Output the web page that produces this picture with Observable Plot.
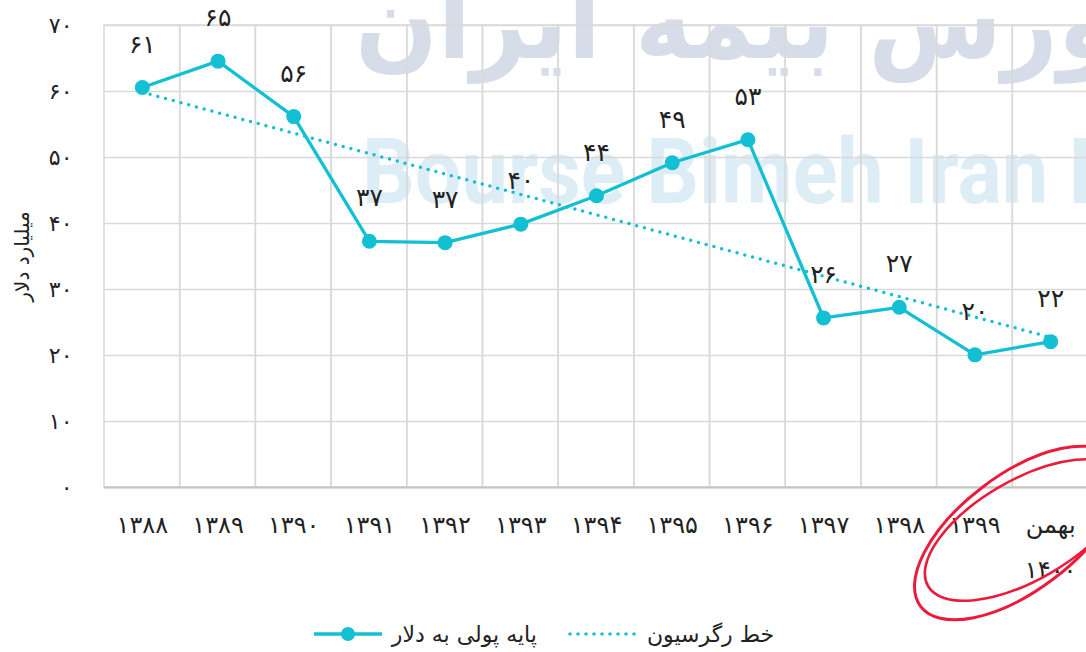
<!DOCTYPE html>
<html>
<head>
<meta charset="utf-8">
<script src="https://cdn.jsdelivr.net/npm/d3@7"></script>
<script src="https://cdn.jsdelivr.net/npm/@observablehq/plot@0.6"></script>
<style>
  html, body { margin: 0; padding: 0; background: #fff; }
  body { width: 1086px; height: 652px; overflow: hidden; font-family: "DejaVu Sans", sans-serif; }
  #wrap { position: relative; width: 1086px; height: 652px; }
  #wm { position: absolute; left: 0; top: 0; z-index: 0; }
  #chart { position: absolute; left: 0; top: 0; z-index: 1; }
  #anno { position: absolute; left: 0; top: 0; z-index: 3; pointer-events: none; }
  #legend { position: absolute; left: 0; top: 614px; width: 1086px; height: 40px; z-index: 2;
    display: flex; justify-content: center; align-items: center; gap: 30px; font-size: 22px; color: #222; }
  .item { display: flex; align-items: center; gap: 8px; }
</style>
</head>
<body>
<div id="wrap">
  <svg id="wm" width="1086" height="652">
    <text x="355" y="58" font-size="105" font-weight="bold" fill="#d6dde8" textLength="800" lengthAdjust="spacingAndGlyphs" font-family="DejaVu Sans">بورس بیمه ایران</text>
    <text x="362" y="203" font-size="90" font-weight="bold" fill="#ddedf5" textLength="790" lengthAdjust="spacingAndGlyphs" font-family="Roboto, sans-serif">Bourse Bimeh Iran Br</text>
  </svg>
  <div id="chart"></div>
  <div id="legend">
    <div class="item">
      <svg width="72" height="20"><line x1="2" y1="10" x2="70" y2="10" stroke="#12bfd3" stroke-width="3.5"/><circle cx="36" cy="10" r="7" fill="#12bfd3"/></svg>
      <span>پایه پولی به دلار</span>
    </div>
    <div class="item">
      <svg width="72" height="20"><line x1="3" y1="10" x2="70" y2="10" stroke="#12bfd3" stroke-width="3.5" stroke-dasharray="0 8" stroke-linecap="round"/></svg>
      <span>خط رگرسیون</span>
    </div>
  </div>
  <svg id="anno" width="1086" height="652">
    <ellipse cx="1018" cy="533" rx="122" ry="58" transform="rotate(-37 1018 533)" fill="none" stroke="#ec1b3b" stroke-width="3"/>
    <ellipse cx="1025" cy="530" rx="112" ry="50" transform="rotate(-30 1025 530)" fill="none" stroke="#ec1b3b" stroke-width="2.6"/>
  </svg>
</div>
<script>
const years = ["۱۳۸۸","۱۳۸۹","۱۳۹۰","۱۳۹۱","۱۳۹۲","۱۳۹۳","۱۳۹۴","۱۳۹۵","۱۳۹۶","۱۳۹۷","۱۳۹۸","۱۳۹۹","بهمن\n۱۴۰۰"];
const values = [60.6, 64.6, 56.2, 37.3, 37.1, 39.9, 44.2, 49.2, 52.7, 25.7, 27.3, 20.1, 22.1];
const valueLabels = [61, 65, 56, 37, 37, 40, 44, 49, 53, 26, 27, 20, 22];
const yTicks = [0, 10, 20, 30, 40, 50, 60, 70];
const yTitle = ["میلیارد دلار"];

const color = "#12bfd3";
const fa = d => String(d).replace(/\d/g, c => "۰۱۲۳۴۵۶۷۸۹"[+c]);

const data = years.map((y, i) => ({year: y, i, value: values[i], label: fa(valueLabels[i])}));

// least-squares regression line over the series
const mx = d3.mean(data, d => d.i), my = d3.mean(data, d => d.value);
const slope = d3.sum(data, d => (d.i - mx) * (d.value - my)) / d3.sum(data, d => (d.i - mx) ** 2);
const trend = data.map(d => ({year: d.year, value: my + slope * (d.i - mx)}));

const chart = Plot.plot({
  width: 1086,
  height: 600,
  marginLeft: 104,
  marginRight: 0,
  marginTop: 25,
  marginBottom: 113,
  style: {background: "transparent", fontFamily: "DejaVu Sans, sans-serif", color: "#222"},
  x: {type: "band", domain: years, range: [104, 1088], paddingInner: 0, paddingOuter: 0, round: false, label: null},
  y: {domain: [0, 70], label: null},
  marks: [
    Plot.ruleY(yTicks, {stroke: "#d9d9d9", strokeWidth: 1.5}),
    Plot.cell(years, {x: d => d, fill: "none", stroke: "#d9d9d9", strokeWidth: 1.5}),
    Plot.ruleY([0], {stroke: "#c4c4c4", strokeWidth: 2}),
    Plot.line(trend, {x: "year", y: "value", stroke: color, strokeWidth: 3.5, strokeDasharray: "0 8", strokeLinecap: "round"}),
    Plot.line(data, {x: "year", y: "value", stroke: color, strokeWidth: 3.3}),
    Plot.dot(data, {x: "year", y: "value", r: 7.5, fill: color}),
    Plot.text(data, {x: "year", y: "value", text: "label", dy: -43, fontSize: 25, fill: "#222"}),
    Plot.axisY({ticks: yTicks, tickSize: 0, tickPadding: 32, tickFormat: fa, fontSize: 22, label: null}),
    Plot.text(yTitle, {frameAnchor: "left", textAnchor: "middle", rotate: -90, dx: -82, fontSize: 20, fill: "#222"}),
    Plot.axisX({tickSize: 0, tickPadding: 13, fontSize: 24, lineHeight: 1.9, label: null})
  ]
});
document.getElementById("chart").appendChild(chart);
</script>
</body>
</html>
